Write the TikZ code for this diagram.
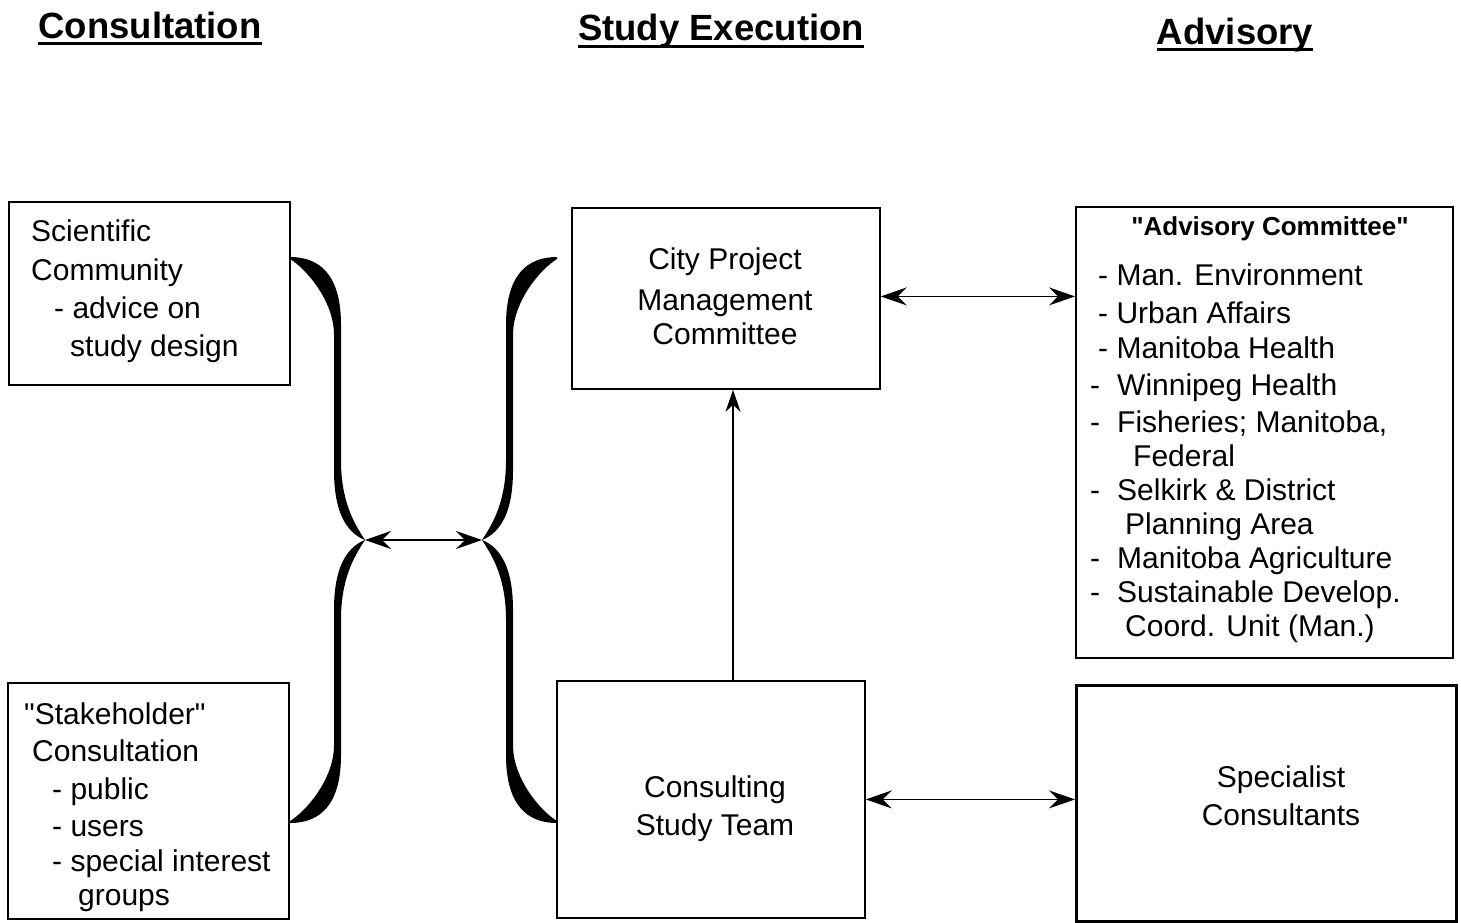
\documentclass[tikz,border=0pt]{standalone}
\usepackage{fontspec}
\setmainfont{Liberation Sans}[Ligatures=TeXOff]
\usetikzlibrary{arrows.meta,calc}
\begin{document}
\begin{tikzpicture}[x=1pt,y=-1pt,
  box/.style={draw,line width=1.8pt,inner sep=0,anchor=north west},
  txt/.style={inner sep=0,anchor=base west,font=\fontsize{30}{36}\selectfont},
  ctxt/.style={inner sep=0,anchor=base,font=\fontsize{30}{36}\selectfont},
  head/.style={inner sep=0,anchor=base,font=\fontsize{36.5}{40}\selectfont\bfseries},
  uline/.style={line width=3pt},
  arr/.style={line width=1.3pt,{Stealth[length=26pt,width=18pt,inset=9pt]}-{Stealth[length=26pt,width=18pt,inset=9pt]}},
  onearr/.style={line width=1.3pt,-{Stealth[length=22pt,width=15pt,inset=7pt]}},
  bracefill/.style={fill=black}]
\useasboundingbox (0,0) rectangle (1461,922);

% headings
\node[head] (h1) at (150,38) {Consultation};
\node[head] (h2) at (721,40) {Study Execution};
\node[head] (h3) at (1235,44) {Advisory};
\draw[uline] ([yshift=-5pt]h1.base west) -- ([yshift=-5pt]h1.base east);
\draw[uline] ([yshift=-6pt]h2.base west) -- ([yshift=-6pt]h2.base east);
\draw[uline] ([yshift=-5pt]h3.base west) -- ([yshift=-5pt]h3.base east);

% boxes
\node[box,minimum width=281pt,minimum height=183pt] (sci) at (8,201) {};
\node[box,minimum width=281pt,minimum height=236pt] (stk) at (7,682) {};
\node[box,minimum width=308pt,minimum height=181pt] (pmc) at (571,207) {};
\node[box,minimum width=308pt,minimum height=237pt] (cst) at (556,680) {};
\node[box,minimum width=377pt,minimum height=451pt] (adv) at (1075,206) {};
\node[box,line width=3.2pt,minimum width=380pt,minimum height=236pt] (spc) at (1075,684) {};

% texts
\foreach \x/\y/\t [count=\i] in {31/241/Scientific, 31/280/Community, 54/318/{- advice on}, 70/356/{study design}}
  \node[txt] (scit\i) at (\x,\y) {\t};
\foreach \x/\y/\t [count=\i] in {24/724/{"Stakeholder"}, 32/761/Consultation, 52/799/{- public}, 52/836/{- users}, 52/871/{- special interest}, 78/905/groups}
  \node[txt] (stkt\i) at (\x,\y) {\t};
\foreach \y/\t [count=\i] in {269/{City Project}, 310/Management, 344/Committee}
  \node[ctxt] (pmct\i) at (725,\y) {\t};
\foreach \y/\t [count=\i] in {797/Consulting, 835/{Study Team}}
  \node[ctxt] (cstt\i) at (715,\y) {\t};
\foreach \y/\t [count=\i] in {787/Specialist, 825/Consultants}
  \node[ctxt] (spct\i) at (1281,\y) {\t};
\node[inner sep=0,anchor=base,font=\fontsize{26}{30}\selectfont\bfseries] (advh) at (1270,235) {"Advisory Committee"};
\foreach \x/\y/\t [count=\i] in {
  1098/285/{- Man. Environment},
  1098/323/{- Urban Affairs},
  1098/358/{- Manitoba Health},
  1090/395/{-\hspace{17pt}Winnipeg Health},
  1090/432/{-\hspace{17pt}Fisheries; Manitoba,},
  1133/466/{Federal},
  1090/500/{-\hspace{17pt}Selkirk \& District},
  1125/534/{Planning Area},
  1090/568/{-\hspace{17pt}Manitoba Agriculture},
  1090/602/{-\hspace{17pt}Sustainable Develop.},
  1125/636/{Coord. Unit (Man.)}}
  \node[txt] (advt\i) at (\x,\y) {\t};

% braces
\coordinate (tipL) at (365,540);
\coordinate (tipR) at (482,540);
\foreach \ys in {1,-1}{
  \begin{scope}[shift={(tipL)},yscale=\ys]
    \fill[bracefill] (-75,-283) .. controls (-45,-283) and (-24,-265) .. (-24,-215)
      -- (-24,-80) .. controls (-24,-40) and (-12,-18) .. (0,0)
      .. controls (-20,-8) and (-31,-30) .. (-31,-70)
      -- (-31,-205) .. controls (-31,-240) and (-60,-272) .. (-75,-281) -- cycle;
  \end{scope}
  \begin{scope}[shift={(tipR)},xscale=-1,yscale=\ys]
    \fill[bracefill] (-75,-283) .. controls (-45,-283) and (-24,-265) .. (-24,-215)
      -- (-24,-80) .. controls (-24,-40) and (-12,-18) .. (0,0)
      .. controls (-20,-8) and (-31,-30) .. (-31,-70)
      -- (-31,-205) .. controls (-31,-240) and (-60,-272) .. (-75,-281) -- cycle;
  \end{scope}
}

% connectors
\draw[arr] (tipL) -- (tipR);
\draw[arr] ([yshift=2pt]pmc.east) -- ([yshift=2pt]pmc.east -| adv.west);
\draw[arr] (cst.east) -- (cst.east -| spc.west);
\coordinate (va) at (733,680);
\draw[onearr] (va) -- (va |- pmc.south);
\end{tikzpicture}
\end{document}
